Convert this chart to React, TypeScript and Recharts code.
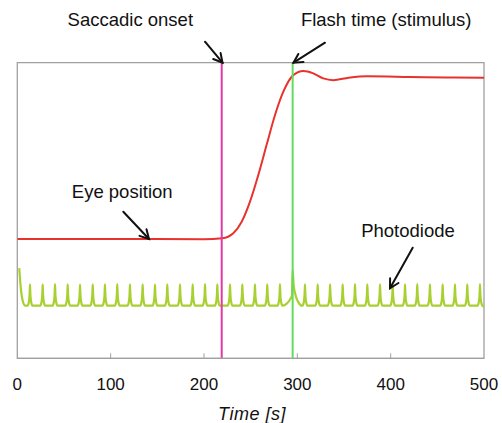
import React from 'react';
import { LineChart, Line, XAxis, YAxis, ReferenceLine, ReferenceArea } from 'recharts';

// time axis
const timeTicks = [0, 100, 200, 300, 400, 500];

// eye position trace (arbitrary units, 0..100)
const eyeTimes = [0, 100, 200, 219.6, 231.4, 240.4, 249.3, 258.2, 267.2, 276.1, 285.0, 295.7, 306.4, 317.1, 327.8, 338.5, 355, 375, 420, 460, 500];
const eyeValues = [40.4, 40.4, 40.3, 40.6, 42.3, 46.2, 53.0, 62.0, 72.3, 82.3, 90.2, 95.8, 97.2, 96.4, 94.7, 94.1, 94.9, 95.4, 95.2, 95.0, 94.9];

// photodiode: spike times and peak levels
const spikeTimes = [13.6, 27.2, 40.4, 54.0, 67.2, 80.8, 93.9, 107.1, 120.7, 134.3, 147.5, 160.7, 174.3, 187.9, 201.1, 214.3, 227.9, 241.1, 254.6, 267.8, 281.4, 308.2, 321.8, 335.1, 348.6, 361.8, 375.0, 388.6, 402.2, 415.4, 428.5, 442.1, 455.7, 468.9, 482.1, 495.7];
const spikePeaks = [25.0, 25.0, 25.1, 25.0, 24.9, 25.0, 25.0, 25.1, 25.0, 25.0, 24.9, 25.0, 25.0, 25.0, 25.1, 25.0, 25.0, 25.0, 25.0, 25.0, 25.1, 25.0, 25.0, 25.0, 25.0, 25.1, 25.0, 25.0, 25.0, 25.0, 25.1, 25.0, 25.0, 25.0, 25.0, 25.1];
const photoBase = 17.5;
// start of trace and the large spike at the flash
const startTimes = [2.1, 3.0, 4.0, 6.0, 8.5];
const startValues = [30.5, 26.5, 23.0, 19.2, 17.8];
const flashTimes = [294.2, 295.0, 296.0, 298.0, 301.0, 305.0];
const flashValues = [21.0, 29.9, 25.0, 21.5, 19.0, 17.8];

const saccadeOnset = 219;
const flashTime = 295;

const eyeData = eyeTimes.map((t, i) => ({ t, v: eyeValues[i] }));

const photoData = (() => {
  const pts: { t: number; v: number }[] = startTimes.map((t, i) => ({ t, v: startValues[i] }));
  spikeTimes.forEach((t, i) => {
    if (i === 21) {
      flashTimes.forEach((ft, j) => pts.push({ t: ft, v: flashValues[j] }));
    }
    const p = spikePeaks[i];
    pts.push({ t: t - 2.6, v: photoBase + 0.3 });
    pts.push({ t: t - 1.1, v: photoBase + 1.8 });
    pts.push({ t: t - 0.4, v: photoBase + 4.2 });
    pts.push({ t, v: p });
    pts.push({ t: t + 0.4, v: photoBase + 4.2 });
    pts.push({ t: t + 1.1, v: photoBase + 1.8 });
    pts.push({ t: t + 2.6, v: photoBase + 0.3 });
  });
  pts.push({ t: 500, v: photoBase });
  return pts.sort((a, b) => a.t - b.t);
})();

const FONT = 'Liberation Sans, Arial, Helvetica, sans-serif';
const GRAY = '#a0a0a0';

const TimeTick = (props: any) => {
  const { x, y, payload } = props;
  const inner = payload.value > 0 && payload.value < 500;
  return (
    <g>
      {inner && <line x1={x} x2={x} y1={y - 5} y2={y} stroke={GRAY} strokeWidth={1} />}
      <text x={x} y={y + 31.7} textAnchor="middle" fontFamily={FONT} fontSize={17} fill="#111">
        {payload.value}
      </text>
    </g>
  );
};

function Arrow({ x1, y1, x2, y2 }: { x1: number; y1: number; x2: number; y2: number }) {
  const a = Math.atan2(y2 - y1, x2 - x1);
  const len = 10;
  const spread = 0.5;
  const h1x = x2 - len * Math.cos(a - spread);
  const h1y = y2 - len * Math.sin(a - spread);
  const h2x = x2 - len * Math.cos(a + spread);
  const h2y = y2 - len * Math.sin(a + spread);
  return (
    <g stroke="#111" strokeWidth={2} fill="none" strokeLinecap="round">
      <line x1={x1} y1={y1} x2={x2} y2={y2} />
      <polyline points={`${h1x},${h1y} ${x2},${y2} ${h2x},${h2y}`} />
    </g>
  );
}

export default function App() {
  return (
    <div style={{ position: 'absolute', left: 0, top: 0, width: 502, height: 423, background: '#fff' }}>
      <LineChart width={502} height={423} margin={{ top: 62.7, right: 18, left: 17.3, bottom: 0 }}>
        <XAxis
          dataKey="t"
          type="number"
          domain={[0, 500]}
          ticks={timeTicks}
          allowDataOverflow
          height={64.7}
          axisLine={{ stroke: GRAY, strokeWidth: 1.3 }}
          tickLine={false}
          tickSize={0}
          tickMargin={0}
          tick={<TimeTick />}
          interval={0}
        />
        <YAxis hide type="number" domain={[0, 100]} allowDataOverflow />
        <ReferenceArea x1={0} x2={500} y1={0} y2={100} fill="none" stroke={GRAY} strokeWidth={1.3} fillOpacity={0} />
        <Line data={photoData} dataKey="v" type="monotone" stroke="#a8d030" strokeWidth={2.2} dot={false} isAnimationActive={false} />
        <Line data={eyeData} dataKey="v" type="monotone" stroke="#e8322e" strokeWidth={2} dot={false} isAnimationActive={false} />
        <ReferenceLine x={saccadeOnset} stroke="#e23aa5" strokeWidth={2} />
        <ReferenceLine x={flashTime} stroke="#62dc5e" strokeWidth={2} />
      </LineChart>
      <svg width={502} height={423} style={{ position: 'absolute', left: 0, top: 0, pointerEvents: 'none' }}>
        <g fontFamily={FONT} fontSize={18.5} fill="#111" textAnchor="middle">
          <text x={130.3} y={26}>Saccadic onset</text>
          <text x={386.2} y={26}>Flash time (stimulus)</text>
          <text x={122.2} y={198.3}>Eye position</text>
          <text x={408} y={237}>Photodiode</text>
        </g>
        <text x={252} y={420} textAnchor="middle" fontFamily={FONT} fontStyle="italic" fontSize={18} letterSpacing={0.5} fill="#111">
          Time [s]
        </text>
        <Arrow x1={205} y1={41.7} x2={222.5} y2={62.7} />
        <Arrow x1={325} y1={42.7} x2={293.5} y2={62.7} />
        <Arrow x1={123.3} y1={211.7} x2={149} y2={239} />
        <Arrow x1={412.7} y1={247.7} x2={390} y2={288.3} />
      </svg>
    </div>
  );
}
